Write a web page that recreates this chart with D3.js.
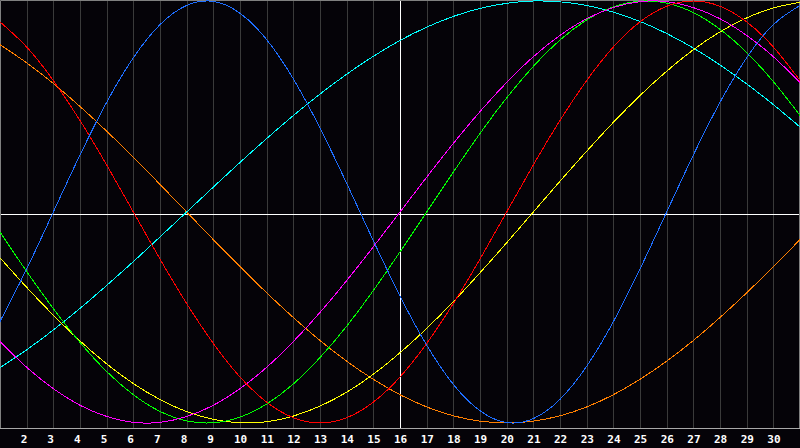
<!DOCTYPE html>
<html>
<head>
<meta charset="utf-8">
<script src="https://cdn.jsdelivr.net/npm/d3@7"></script>
<style>
  html, body { margin: 0; padding: 0; background: #050308; }
  svg { display: block; }
</style>
</head>
<body>
<svg id="chart" width="800" height="448"></svg>
<script>
const svg = d3.select('#chart')
const svgWidth = +svg.attr('width')
const svgHeight = +svg.attr('height')
const plotHeight = 428

// days on the x axis
const days = d3.range(1, 32)
const tickDays = d3.range(2, 31)

// curve values per day (-1 .. 1)
const blueVals = [-0.519, -0.270, 0.000, 0.270, 0.520, 0.731, 0.888, 0.979, 0.998, 0.942, 0.817, 0.631, 0.398, 0.136, -0.136, -0.398, -0.631, -0.817, -0.942, -0.998, -0.979, -0.888, -0.731, -0.520, -0.270, 0.000, 0.270, 0.520, 0.731, 0.888, 0.979]
const redVals = [0.901, 0.782, 0.623, 0.434, 0.223, 0.000, -0.223, -0.434, -0.623, -0.782, -0.901, -0.975, -1.000, -0.975, -0.901, -0.782, -0.623, -0.434, -0.223, 0.000, 0.223, 0.434, 0.623, 0.782, 0.901, 0.975, 1.000, 0.975, 0.901, 0.782, 0.623]
const greenVals = [-0.095, -0.282, -0.458, -0.618, -0.756, -0.866, -0.945, -0.990, -0.999, -0.972, -0.910, -0.815, -0.690, -0.541, -0.372, -0.189, 0.000, 0.189, 0.372, 0.541, 0.690, 0.815, 0.910, 0.972, 0.999, 0.990, 0.945, 0.866, 0.756, 0.618, 0.458]
const magentaVals = [-0.614, -0.736, -0.837, -0.916, -0.969, -0.997, -0.997, -0.969, -0.916, -0.837, -0.736, -0.614, -0.476, -0.325, -0.165, 0.000, 0.165, 0.325, 0.476, 0.614, 0.736, 0.837, 0.916, 0.969, 0.997, 0.997, 0.969, 0.916, 0.837, 0.736, 0.614]
const yellowVals = [-0.217, -0.357, -0.489, -0.611, -0.720, -0.813, -0.889, -0.946, -0.983, -0.999, -0.994, -0.967, -0.920, -0.854, -0.769, -0.667, -0.552, -0.425, -0.288, -0.146, 0.000, 0.146, 0.288, 0.425, 0.552, 0.667, 0.769, 0.854, 0.920, 0.967, 0.994]
const orangeVals = [0.793, 0.707, 0.609, 0.500, 0.383, 0.259, 0.131, 0.000, -0.131, -0.259, -0.383, -0.500, -0.609, -0.707, -0.793, -0.866, -0.924, -0.966, -0.991, -1.000, -0.991, -0.966, -0.924, -0.866, -0.793, -0.707, -0.609, -0.500, -0.383, -0.259, -0.131]
const cyanVals = [-0.738, -0.653, -0.559, -0.457, -0.348, -0.235, -0.118, 0.000, 0.118, 0.235, 0.348, 0.457, 0.559, 0.653, 0.738, 0.813, 0.876, 0.927, 0.965, 0.989, 1.000, 0.996, 0.979, 0.947, 0.903, 0.846, 0.777, 0.697, 0.607, 0.509, 0.403]

const series = [
  { color: '#ff7f00', values: orangeVals },
  { color: '#00ffff', values: cyanVals },
  { color: '#ffff00', values: yellowVals },
  { color: '#00ff00', values: greenVals },
  { color: '#ff00ff', values: magentaVals },
  { color: '#ff0000', values: redVals },
  { color: '#1e6eff', values: blueVals }
]

const xScale = d3.scaleLinear()
  .domain([1, 31])
  .range([0, svgWidth])

const yScale = d3.scaleLinear()
  .domain([-1, 1])
  .range([423, 1])

// day grid lines
svg.append('g')
  .selectAll('line')
  .data(tickDays)
  .enter()
  .append('line')
  .attr('x1', d => Math.round(xScale(d)) + 0.5)
  .attr('x2', d => Math.round(xScale(d)) + 0.5)
  .attr('y1', 0)
  .attr('y2', plotHeight)
  .style('stroke', d => d === 16 ? '#ffffff' : '#3a3a3a')
  .style('stroke-width', 1)

// middle line
svg.append('line')
  .attr('x1', 0).attr('x2', svgWidth)
  .attr('y1', plotHeight / 2 + 0.5).attr('y2', plotHeight / 2 + 0.5)
  .style('stroke', '#ffffff')

// frame
svg.append('path')
  .attr('d', `M0.5,${plotHeight + 0.5} V0.5 H${svgWidth - 0.5} V${plotHeight + 0.5}`)
  .style('fill', 'none')
  .style('stroke', '#808080')
svg.append('line')
  .attr('x1', 0).attr('x2', svgWidth)
  .attr('y1', plotHeight + 0.5).attr('y2', plotHeight + 0.5)
  .style('stroke', '#a8a8a8')

// curves
const line = d3.line()
  .x((d, i) => xScale(days[i]))
  .y(d => yScale(d))
  .curve(d3.curveNatural)

svg.append('g')
  .selectAll('path')
  .data(series)
  .enter()
  .append('path')
  .attr('d', d => line(d.values))
  .style('fill', 'none')
  .style('stroke', d => d.color)
  .style('stroke-width', 1)
  .style('shape-rendering', 'crispEdges')

// day labels
svg.append('g')
  .selectAll('text')
  .data(tickDays)
  .enter()
  .append('text')
  .attr('x', d => xScale(d) - 6)
  .attr('y', 443)
  .text(d => d)
  .style('fill', '#ffffff')
  .style('font-family', '"DejaVu Sans Mono", monospace')
  .style('font-weight', 'bold')
  .style('font-size', '11px')
</script>
</body>
</html>
